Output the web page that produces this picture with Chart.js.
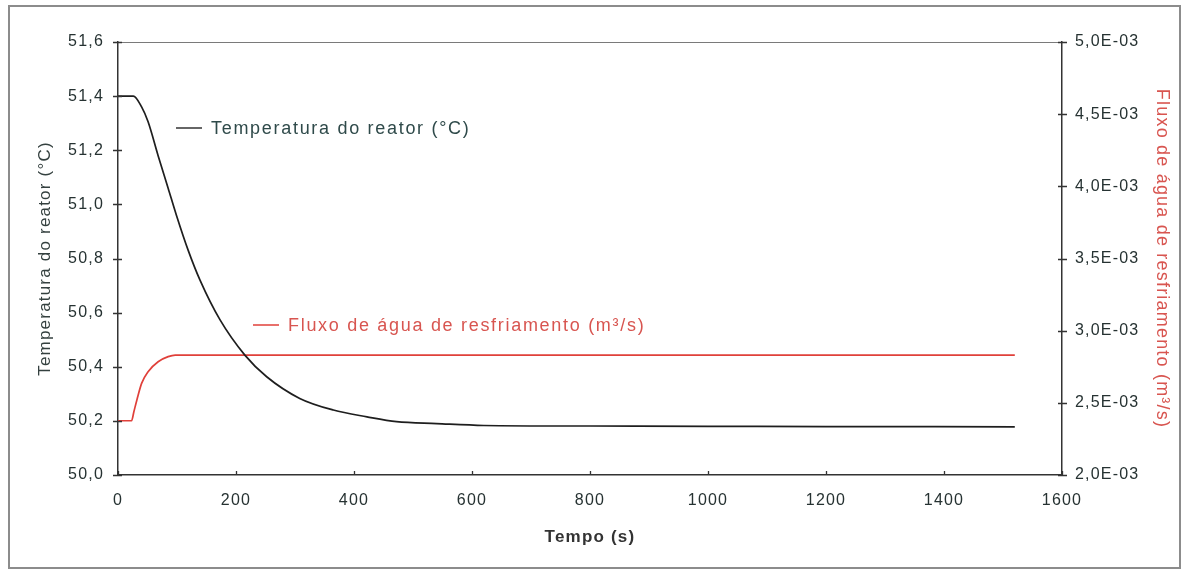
<!DOCTYPE html>
<html>
<head>
<meta charset="utf-8">
<script src="https://cdn.jsdelivr.net/npm/chart.js@4/dist/chart.umd.min.js"></script>
<style>
  html, body { margin: 0; padding: 0; background: #fff; }
  #wrap { width: 1187px; height: 574px; }
</style>
</head>
<body>
<div id="wrap"><canvas id="reactorChart" width="1187" height="574"></canvas></div>
<script>
// tempo (s) e temperatura do reator (°C)
const tempoTemp = [0, 26, 40, 51, 68, 85, 99, 119, 139, 173, 215, 252, 308, 365, 422, 472, 540, 620, 800, 1000, 1200, 1520];
const temperatura = [51.40, 51.40, 51.36, 51.305, 51.18, 51.06, 50.96, 50.83, 50.72, 50.573, 50.443, 50.363, 50.283, 50.24, 50.215, 50.197, 50.19, 50.183, 50.181, 50.18, 50.179, 50.178];

// tempo (s) e fluxo de água de resfriamento (m³/s)
const tempoFluxo = [0, 23, 27, 32, 40, 51, 68, 85, 97, 200, 600, 1000, 1520];
const fluxo = [0.002376, 0.002376, 0.00244, 0.00252, 0.002635, 0.002716, 0.002785, 0.00282, 0.002831, 0.002831, 0.002831, 0.002831, 0.002831];

const xTicks = [0, 200, 400, 600, 800, 1000, 1200, 1400, 1600];
const tempTicks = [50.0, 50.2, 50.4, 50.6, 50.8, 51.0, 51.2, 51.4, 51.6];
const fluxoTicks = [0.0020, 0.0025, 0.0030, 0.0035, 0.0040, 0.0045, 0.0050];

const labelTemp = 'Temperatura do reator (°C)';
const labelFluxo = 'Fluxo de água de resfriamento (m³/s)';

const tickColor = '#263232';
const red = '#e0403a';
const redText = '#d85550';
const fonte = '"Liberation Sans", Arial, sans-serif';

const moldura = {
  id: 'moldura',
  beforeDraw(chart) {
    const ctx = chart.ctx;
    const a = chart.chartArea;
    ctx.save();
    ctx.fillStyle = '#fff';
    ctx.fillRect(0, 0, chart.width, chart.height);
    ctx.strokeStyle = '#8c8c8c';
    ctx.lineWidth = 2;
    ctx.strokeRect(9, 6, 1171, 562);
    ctx.strokeStyle = '#7a7a7a';
    ctx.lineWidth = 1;
    ctx.beginPath();
    ctx.moveTo(a.left, a.top + 0.5);
    ctx.lineTo(a.right, a.top + 0.5);
    ctx.stroke();
    ctx.restore();
    // texto dos eixos um pouco espaçado, como no original
    ctx.letterSpacing = '1.2px';
  },
  beforeDatasetsDraw(chart) {
    chart.ctx.letterSpacing = '0px';
  },
  afterDraw(chart) {
    const ctx = chart.ctx;
    const a = chart.chartArea;
    const {x, y, y1} = chart.scales;
    ctx.save();
    ctx.strokeStyle = '#333';
    ctx.lineWidth = 1.3;
    ctx.beginPath();
    y.ticks.forEach(t => {
      const p = Math.round(y.getPixelForValue(t.value)) + 0.5;
      ctx.moveTo(a.left - 5, p); ctx.lineTo(a.left + 4, p);
    });
    y1.ticks.forEach(t => {
      const p = Math.round(y1.getPixelForValue(t.value)) + 0.5;
      ctx.moveTo(a.right - 4, p); ctx.lineTo(a.right + 5, p);
    });
    x.ticks.forEach(t => {
      const p = Math.round(x.getPixelForValue(t.value)) + 0.5;
      ctx.moveTo(p, a.bottom - 4); ctx.lineTo(p, a.bottom);
    });
    ctx.stroke();

    // notas de legenda dentro do gráfico
    const nota = (x0, yy, cor, corTexto, texto) => {
      ctx.strokeStyle = cor;
      ctx.lineWidth = 1.5;
      ctx.beginPath();
      ctx.moveTo(x0, yy); ctx.lineTo(x0 + 26, yy);
      ctx.stroke();
      ctx.save();
      ctx.font = '18px ' + fonte;
      ctx.letterSpacing = '1.7px';
      ctx.fillStyle = corTexto;
      ctx.textBaseline = 'middle';
      ctx.fillText(texto, x0 + 35, yy + 1);
      ctx.restore();
    };
    nota(176, 128, '#333', '#2f4a4a', labelTemp);
    nota(253, 325, red, redText, labelFluxo);
    ctx.restore();
  }
};

new Chart(document.getElementById('reactorChart').getContext('2d'), {
  type: 'line',
  data: {
    datasets: [
      {
        label: labelTemp,
        data: tempoTemp.map((t, i) => ({x: t, y: temperatura[i]})),
        yAxisID: 'y',
        borderColor: '#1e1e1e',
        borderWidth: 1.7,
        pointRadius: 0,
        cubicInterpolationMode: 'monotone',
        fill: false
      },
      {
        label: labelFluxo,
        data: tempoFluxo.map((t, i) => ({x: t, y: fluxo[i]})),
        yAxisID: 'y1',
        borderColor: red,
        borderWidth: 1.7,
        pointRadius: 0,
        cubicInterpolationMode: 'monotone',
        fill: false
      }
    ]
  },
  options: {
    responsive: false,
    animation: false,
    layout: { padding: { top: 42, left: 0, right: 0, bottom: 0 } },
    plugins: { legend: { display: false }, tooltip: { enabled: false } },
    scales: {
      x: {
        type: 'linear',
        min: 0, max: 1600,
        afterBuildTicks: s => { s.ticks = xTicks.map(v => ({value: v})); },
        afterFit: s => { s.height = 99; },
        grid: { drawOnChartArea: false, drawTicks: false },
        border: { color: '#333', width: 1.5 },
        ticks: { padding: 16, color: tickColor, font: { family: fonte, size: 16 }, callback: v => String(v) },
        title: { display: true, text: 'Tempo (s)', color: '#333', font: { family: fonte, size: 17, weight: 'bold' }, padding: { top: 0, bottom: 26 } }
      },
      y: {
        position: 'left',
        min: 50.0, max: 51.6,
        afterBuildTicks: s => { s.ticks = tempTicks.map(v => ({value: v})); },
        afterFit: s => { s.width = 118; },
        grid: { drawOnChartArea: false, drawTicks: false },
        border: { color: '#333', width: 1.5 },
        ticks: { padding: 14, color: tickColor, font: { family: fonte, size: 16 }, callback: v => v.toFixed(1).replace('.', ',') },
        title: { display: true, text: labelTemp, color: '#34403f', font: { family: fonte, size: 17 }, padding: { top: 35, bottom: 0 } }
      },
      y1: {
        position: 'right',
        min: 0.002, max: 0.005,
        afterBuildTicks: s => { s.ticks = fluxoTicks.map(v => ({value: v})); },
        afterFit: s => { s.width = 125; },
        grid: { drawOnChartArea: false, drawTicks: false },
        border: { color: '#333', width: 1.5 },
        ticks: { padding: 13, color: tickColor, font: { family: fonte, size: 16 }, callback: v => (v * 1000).toFixed(1).replace('.', ',') + 'E-03' },
        title: { display: true, text: labelFluxo, color: redText, font: { family: fonte, size: 18 }, padding: { top: 14, bottom: 0 } }
      }
    }
  },
  plugins: [moldura]
});
</script>
</body>
</html>
